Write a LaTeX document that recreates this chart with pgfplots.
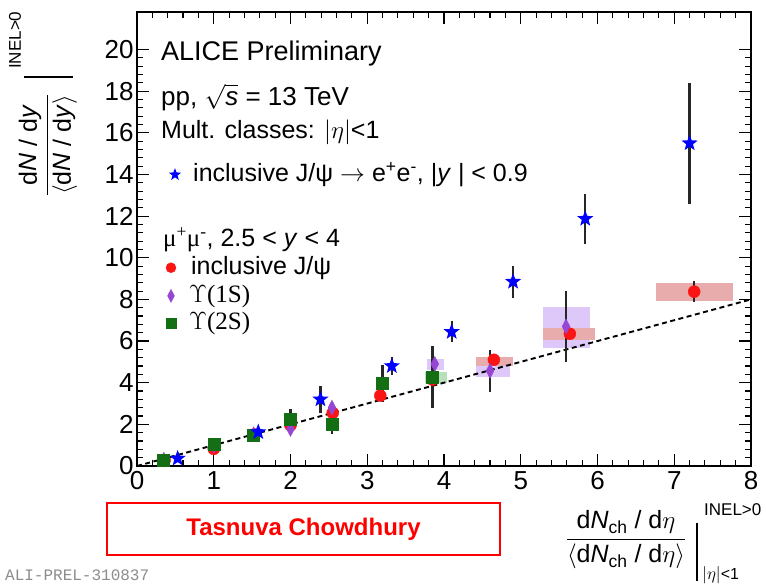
\documentclass[border=0pt]{standalone}
\usepackage{pgfplots}
\usepackage{pgfplotstable}
\pgfplotsset{compat=1.18}
\usepackage{amsmath}
\usepackage{fontspec}
\setmainfont{Liberation Sans}
\newfontfamily\seriffont{Liberation Serif}
\newfontfamily\monofont{Liberation Mono}

\definecolor{jblue}{RGB}{0,0,255}
\definecolor{jred}{RGB}{250,20,20}
\definecolor{upurple}{RGB}{150,70,210}
\definecolor{ugreen}{RGB}{20,110,20}
\definecolor{boxred}{RGB}{232,172,172}
\definecolor{boxpurple}{RGB}{222,200,250}
\definecolor{boxgreen}{RGB}{185,225,185}

\pgfdeclareplotmark{fstar}{%
 \pgfpathmoveto{\pgfpointpolar{90}{\pgfplotmarksize}}%
 \pgfpathlineto{\pgfpointpolar{126}{0.42\pgfplotmarksize}}%
 \pgfpathlineto{\pgfpointpolar{162}{\pgfplotmarksize}}%
 \pgfpathlineto{\pgfpointpolar{198}{0.42\pgfplotmarksize}}%
 \pgfpathlineto{\pgfpointpolar{234}{\pgfplotmarksize}}%
 \pgfpathlineto{\pgfpointpolar{270}{0.42\pgfplotmarksize}}%
 \pgfpathlineto{\pgfpointpolar{306}{\pgfplotmarksize}}%
 \pgfpathlineto{\pgfpointpolar{342}{0.42\pgfplotmarksize}}%
 \pgfpathlineto{\pgfpointpolar{18}{\pgfplotmarksize}}%
 \pgfpathlineto{\pgfpointpolar{54}{0.42\pgfplotmarksize}}%
 \pgfpathclose\pgfusepathqfill}

% inclusive J/psi -> e+e-, |y|<0.9
\pgfplotstableread{
x y ey
0.53 0.36 0.08
1.58 1.63 0.12
2.39 3.20 0.65
3.32 4.80 0.45
4.10 6.44 0.50
4.90 8.85 0.77
5.84 11.87 1.20
7.20 15.50 2.90
}\starData
% inclusive J/psi, forward
\pgfplotstableread{
x y ey
0.36 0.28 0.05
1.00 0.82 0.20
1.53 1.52 0.08
2.00 1.95 0.10
2.55 2.55 0.10
3.17 3.38 0.15
3.85 4.15 0.15
4.65 5.10 0.15
5.64 6.35 0.15
7.26 8.37 0.50
}\redData
% Upsilon(1S)
\pgfplotstableread{
x y ey
0.35 0.30 0.05
1.00 0.98 0.05
1.52 1.52 0.08
2.00 1.78 0.10
2.54 2.80 0.20
3.88 4.90 0.20
4.60 4.57 1.00
5.59 6.70 1.70
}\purpleData
% Upsilon(2S)
\pgfplotstableread{
x y ey
0.34 0.29 0.05
1.00 1.05 0.10
1.51 1.49 0.10
2.00 2.26 0.50
2.54 2.00 0.45
3.20 3.97 0.90
3.85 4.28 1.50
}\greenData

\begin{document}
\begin{tikzpicture}
\useasboundingbox (-137pt,-119pt) rectangle (629pt,466pt);
\begin{axis}[
  at={(0,0)}, anchor=south west,
  width=614pt, height=454pt, scale only axis,
  xmin=0, xmax=8, ymin=0, ymax=21.8,
  xtick={0,...,8}, ytick={0,2,...,20},
  minor x tick num=4, minor y tick num=4,
  major tick length=12pt, minor tick length=6pt,
  tick style={line width=1.1pt, black},
  axis line style={line width=1.4pt},
  tick label style={font=\fontsize{26}{26}\selectfont},
  xticklabel style={inner sep=2pt, yshift=-3pt},
  /pgf/number format/assume math mode=true,
  error bars/error bar style={line width=2.2pt, black!85},
  error bars/error mark=none,
]
% systematic boxes
\addplot[fill=boxgreen, draw=none, forget plot] coordinates {(3.75,4.0)(4.04,4.0)(4.04,4.5)(3.75,4.5)} -- cycle;
\addplot[fill=boxpurple, draw=none, forget plot] coordinates {(3.78,4.62)(4.0,4.62)(4.0,5.14)(3.78,5.14)} -- cycle;
\addplot[fill=boxpurple, draw=none, forget plot] coordinates {(4.42,4.28)(4.86,4.28)(4.86,4.85)(4.42,4.85)} -- cycle;
\addplot[fill=boxpurple, draw=none, forget plot] coordinates {(5.29,5.67)(5.90,5.67)(5.90,7.65)(5.29,7.65)} -- cycle;
\addplot[fill=boxred, draw=none, forget plot] coordinates {(4.42,4.80)(4.90,4.80)(4.90,5.24)(4.42,5.24)} -- cycle;
\addplot[fill=boxred, draw=none, forget plot] coordinates {(5.29,6.06)(5.97,6.06)(5.97,6.63)(5.29,6.63)} -- cycle;
\addplot[fill=boxred, draw=none, forget plot] coordinates {(6.76,7.93)(7.77,7.93)(7.77,8.80)(6.76,8.80)} -- cycle;
% dashed line
\addplot[black, line width=1.9pt, dash pattern=on 5pt off 3.5pt, forget plot] coordinates {(0,0) (8,8)};
% data
\addplot[only marks, mark=*, mark size=6pt, color=jred,
  error bars/.cd, y dir=both, y explicit] table[x=x,y=y,y error=ey]{\redData};
\addplot[only marks, mark=diamond*, mark size=7.5pt, mark options={xscale=0.7}, color=upurple,
  error bars/.cd, y dir=both, y explicit] table[x=x,y=y,y error=ey]{\purpleData};
\addplot[only marks, mark=square*, mark size=6pt, color=ugreen,
  error bars/.cd, y dir=both, y explicit] table[x=x,y=y,y error=ey]{\greenData};
\addplot[only marks, mark=fstar, mark size=8.5pt, color=jblue,
  error bars/.cd, y dir=both, y explicit] table[x=x,y=y,y error=ey]{\starData};
% legend markers
\addplot[only marks, mark=fstar, mark size=6.5pt, color=jblue, forget plot] coordinates {(0.495,13.99)};
\addplot[only marks, mark=*, mark size=5pt, color=jred, forget plot] coordinates {(0.443,9.52)};
\addplot[only marks, mark=diamond*, mark size=6.5pt, mark options={xscale=0.7}, color=upurple, forget plot] coordinates {(0.443,8.17)};
\addplot[only marks, mark=square*, mark size=5pt, color=ugreen, forget plot] coordinates {(0.443,6.88)};
\end{axis}

% legend / header texts
\begin{scope}[every node/.style={anchor=west, inner sep=0pt}]
\node[font=\fontsize{27}{27}\selectfont] at (24pt,412pt) {ALICE Preliminary};
\node[font=\fontsize{26}{26}\selectfont] at (24pt,367pt) {pp, $\smash{\sqrt{\text{\textit{s}}}}$ = 13 TeV};
\node[font=\fontsize{25}{25}\selectfont] at (24pt,334pt) {Mult. classes: $|\eta|$<1};
\node[font=\fontsize{25}{25}\selectfont] at (56pt,291pt) {inclusive J/ψ $\rightarrow$ e\textsuperscript{+}e\textsuperscript{-}, |\textit{y} | < 0.9};
\node[font=\fontsize{25}{25}\selectfont] at (26pt,226pt) {{\seriffont μ\textsuperscript{+}μ\textsuperscript{-}}, 2.5 < \textit{y} < 4};
\node[font=\fontsize{25}{25}\selectfont] at (54pt,198pt) {inclusive J/ψ};
\node[font=\fontsize{25}{25}\selectfont] at (52pt,170pt) {$\Upsilon${\seriffont (1S)}};
\node[font=\fontsize{25}{25}\selectfont] at (52pt,143pt) {$\Upsilon${\seriffont (2S)}};
\end{scope}

% y-axis title
\node[rotate=90, inner sep=0pt, font=\fontsize{25}{30}\selectfont] at (-89pt,321pt)
  {$\dfrac{\text{d\textit{N} / d\textit{y}}}{\langle\text{d\textit{N} / d\textit{y}}\rangle}$};
\draw[line width=1.6pt] (-113pt,389pt) -- (-64pt,389pt);
\node[rotate=90, anchor=west, inner sep=0pt, font=\fontsize{17}{17}\selectfont] at (-122pt,397pt) {INEL>0};
% x-axis title
\node[inner sep=0pt, font=\fontsize{25}{30}\selectfont] at (489pt,-74pt)
  {$\dfrac{\text{d\textit{N}}_{\text{ch}}\text{ / d}\eta}{\langle\text{d\textit{N}}_{\text{ch}}\text{ / d}\eta\rangle}$};
\draw[line width=1.6pt] (560pt,-57pt) -- (560pt,-115pt);
\node[anchor=west, inner sep=0pt, font=\fontsize{17}{17}\selectfont] at (567pt,-44pt) {INEL>0};
\node[anchor=west, inner sep=0pt, font=\fontsize{16}{16}\selectfont] at (565pt,-109pt) {$|\eta|$<1};

% annotation box
\node[draw=red, line width=1.8pt, minimum width=393pt, minimum height=52pt, text=red,
  font=\bfseries\fontsize{24}{24}\selectfont] at (166.5pt,-63pt) {Tasnuva Chowdhury};
\node[anchor=west, inner sep=0pt, text=black!45, font=\monofont\fontsize{16}{16}\selectfont] at (-132pt,-109pt) {ALI-PREL-310837};
\end{tikzpicture}
\end{document}
